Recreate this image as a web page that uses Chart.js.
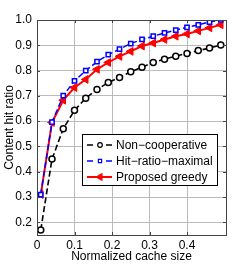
<!DOCTYPE html>
<html>
<head>
<meta charset="utf-8">
<script src="https://cdn.jsdelivr.net/npm/chart.js@4.4.1/dist/chart.umd.min.js"></script>
<style>
  html, body { margin: 0; padding: 0; background: #fff; }
  #wrap { width: 249px; height: 264px; }
</style>
</head>
<body>
<div id="wrap"><canvas id="myChart" width="249" height="264"></canvas></div>
<script>
  var cacheSize = [0.01, 0.04, 0.07, 0.10, 0.13, 0.16, 0.19, 0.22, 0.25, 0.28, 0.31, 0.34, 0.37, 0.40, 0.43, 0.46, 0.49];
  var nonCoop = [0.17, 0.45, 0.57, 0.643, 0.691, 0.725, 0.753, 0.773, 0.795, 0.813, 0.832, 0.845, 0.857, 0.868, 0.879, 0.889, 0.901];
  var hitMax = [0.31, 0.596, 0.701, 0.759, 0.80, 0.835, 0.863, 0.885, 0.907, 0.923, 0.936, 0.949, 0.96, 0.971, 0.981, 0.992, 1.0];
  var greedy = [0.31, 0.595, 0.683, 0.733, 0.765, 0.805, 0.832, 0.856, 0.876, 0.897, 0.909, 0.923, 0.936, 0.945, 0.957, 0.969, 0.981];
  var seriesNames = ['Non\u2212cooperative', 'Hit\u2212ratio\u2212maximal', 'Proposed greedy'];
  var xTicks = [0, 0.1, 0.2, 0.3, 0.4];
  var yTicks = [0.2, 0.3, 0.4, 0.5, 0.6, 0.7, 0.8, 0.9, 1];

  function pts(ys) {
    return cacheSize.map(function (x, i) { return { x: x, y: ys[i] }; });
  }

  // box round the plot + small inward ticks, matlab style
  var boxPlugin = {
    id: 'box',
    afterDatasetsDraw: function (chart) {
      var a = chart.chartArea, ctx = chart.ctx;
      var xs = chart.scales.x, ys = chart.scales.y;
      ctx.save();
      ctx.strokeStyle = '#444';
      ctx.lineWidth = 1;
      ctx.beginPath();
      xTicks.forEach(function (v) {
        var px = Math.round(xs.getPixelForValue(v)) + 0.5;
        ctx.moveTo(px, a.bottom); ctx.lineTo(px, a.bottom - 3);
        ctx.moveTo(px, a.top); ctx.lineTo(px, a.top + 3);
      });
      yTicks.forEach(function (v) {
        var py = Math.round(ys.getPixelForValue(v)) + 0.5;
        ctx.moveTo(a.left, py); ctx.lineTo(a.left + 3, py);
        ctx.moveTo(a.right, py); ctx.lineTo(a.right - 3, py);
      });
      ctx.stroke();
      ctx.strokeRect(Math.round(a.left) + 0.5, Math.round(a.top) + 0.5,
        Math.round(a.right - a.left), Math.round(a.bottom - a.top));
      ctx.restore();
    }
  };

  // legend drawn inside the plot with a border
  var legendBox = {
    id: 'legendBox',
    afterDraw: function (chart) {
      var ctx = chart.ctx;
      var bx = 82, by = 134, bw = 135, bh = 51;
      ctx.save();
      ctx.fillStyle = '#fff';
      ctx.fillRect(bx, by, bw, bh);
      ctx.strokeStyle = '#000';
      ctx.lineWidth = 1;
      ctx.strokeRect(bx + 0.5, by + 0.5, bw, bh);
      chart.data.datasets.forEach(function (ds, i) {
        var y = by + 11 + i * 16;
        ctx.strokeStyle = ds.borderColor;
        ctx.lineWidth = ds.borderWidth;
        ctx.setLineDash(ds.borderDash ? [6, 13] : []);
        ctx.beginPath();
        ctx.moveTo(87, y); ctx.lineTo(112, y);
        ctx.stroke();
        ctx.setLineDash([]);
        ctx.fillStyle = ds.pointBackgroundColor;
        ctx.strokeStyle = ds.pointBorderColor;
        ctx.lineWidth = 1.2;
        Chart.helpers.drawPoint(ctx, {
          pointStyle: ds.pointStyle, radius: ds.pointRadius - 0.7,
          rotation: ds.pointRotation || 0, borderWidth: 1.2
        }, 100, y);
        ctx.fillStyle = '#000';
        ctx.font = '12px "Liberation Sans", Arial, sans-serif';
        ctx.textBaseline = 'middle';
        ctx.fillText(ds.label, 116, y + 0.5);
      });
      ctx.restore();
    }
  };

  var ctx = document.getElementById('myChart').getContext('2d');
  var myChart = new Chart(ctx, {
    type: 'line',
    data: {
      datasets: [{
        label: seriesNames[0],
        data: pts(nonCoop),
        borderColor: '#000',
        borderWidth: 1.6,
        borderDash: [6, 3],
        pointStyle: 'circle',
        pointRadius: 3,
        pointBackgroundColor: '#fff',
        pointBorderColor: '#000',
        pointBorderWidth: 1.5
      }, {
        label: seriesNames[1],
        data: pts(hitMax),
        borderColor: '#0000ff',
        borderWidth: 1.5,
        borderDash: [6, 3],
        pointStyle: 'rect',
        pointRadius: 3,
        pointBackgroundColor: '#fff',
        pointBorderColor: '#0000ff',
        pointBorderWidth: 1.5
      }, {
        label: seriesNames[2],
        data: pts(greedy),
        borderColor: '#ff0000',
        borderWidth: 2,
        pointStyle: 'triangle',
        pointRotation: -90,
        pointRadius: 4.5,
        pointBackgroundColor: '#ff0000',
        pointBorderColor: '#ff0000',
        pointBorderWidth: 1
      }]
    },
    options: {
      responsive: false,
      animation: false,
      layout: { padding: { left: 0, right: 23, top: 20, bottom: 0 } },
      plugins: {
        legend: { display: false },
        tooltip: { enabled: false }
      },
      scales: {
        x: {
          type: 'linear',
          min: 0,
          max: 0.504,
          afterBuildTicks: function (s) { s.ticks = xTicks.map(function (v) { return { value: v }; }); },
          afterFit: function (s) { s.height = 29; },
          grid: { color: '#bbb', borderDash: [1, 2], drawTicks: false },
          border: { display: false },
          ticks: { color: '#000', padding: 3, maxRotation: 0, font: { family: '"Liberation Sans", Arial', size: 12 } },
          title: { display: true, text: 'Normalized cache size', color: '#000', padding: 0, font: { family: '"Liberation Sans", Arial', size: 12 } }
        },
        y: {
          min: 0.15,
          max: 1,
          afterBuildTicks: function (s) { s.ticks = yTicks.map(function (v) { return { value: v }; }); },
          afterFit: function (s) { s.width = 37; },
          grid: { color: '#bbb', borderDash: [1, 2], drawTicks: false },
          border: { display: false },
          ticks: { color: '#000', padding: 5, font: { family: '"Liberation Sans", Arial', size: 12 } },
          title: { display: true, text: 'Content hit ratio', color: '#000', padding: { top: 2, bottom: 0 }, font: { family: '"Liberation Sans", Arial', size: 12 } }
        }
      }
    },
    plugins: [boxPlugin, legendBox]
  });
</script>
</body>
</html>
